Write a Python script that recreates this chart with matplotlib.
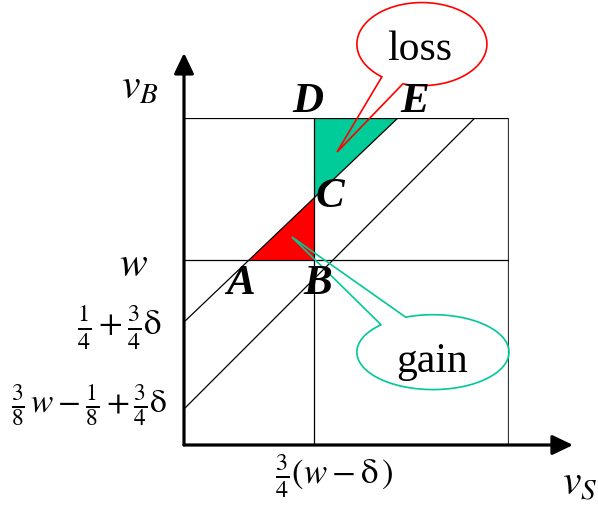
import numpy as np
import matplotlib.pyplot as plt

plt.rcParams['font.family'] = ['Liberation Serif', 'DejaVu Serif']
plt.rcParams['mathtext.fontset'] = 'stix'

# model units: box is the unit square, origin at the axes corner
w_level = 0.566          # v_B = w
b_x = 0.40               # v_S = 3/4 (w - delta)
diag_intercepts = [0.376, 0.110]   # where the two diagonals meet the v_B axis
diag_top_x = [0.658, 0.895]        # where they meet the top of the box

left_labels = [r'$w$',
               r'$\frac{1}{4}+\frac{3}{4}\mathrm{\delta}$',
               r'$\frac{3}{8}\,w-\frac{1}{8}+\frac{3}{4}\mathrm{\delta}$']
x_label = r'$\frac{3}{4}(w-\mathrm{\delta}\,)$'

slopes = [(1 - b) / t for b, t in zip(diag_intercepts, diag_top_x)]
A = ((w_level - diag_intercepts[0]) / slopes[0], w_level)
B = (b_x, w_level)
C = (b_x, diag_intercepts[0] + slopes[0] * b_x)
D = (b_x, 1.0)
E = (diag_top_x[0], 1.0)

fig = plt.figure(figsize=(5.98, 5.07), dpi=100)
ax = fig.add_axes([184 / 598, 62 / 507, 325 / 598, 327 / 507])
ax.set_xlim(0, 1)
ax.set_ylim(0, 1)
ax.axis('off')

# shaded regions
ax.fill([D[0], E[0], C[0]], [D[1], E[1], C[1]], color='#00cc99', lw=0, zorder=1)
ax.fill([A[0], B[0], C[0]], [A[1], B[1], C[1]], color='#ff0000', lw=0, zorder=1)

# box and guide lines
ax.plot([0, 1], [1, 1], color='k', lw=0.9, zorder=2)
ax.plot([1, 1], [0, 1], color='#333333', lw=1.6, zorder=2)
ax.plot([0, 1], [w_level, w_level], color='k', lw=0.9, zorder=2)
ax.plot([b_x, b_x], [0, 1], color='k', lw=0.9, zorder=2)
for b, t in zip(diag_intercepts, diag_top_x):
    ax.plot([0, t], [b, 1], color='k', lw=0.9, zorder=2)

# axes with arrows
arrow = dict(arrowstyle='-|>,head_length=1.25,head_width=0.6', lw=2.3,
             color='k', shrinkA=0, shrinkB=0, mutation_scale=10)
ax.annotate('', xy=(1.197, 0), xytext=(0, 0), arrowprops=arrow, annotation_clip=False)
ax.annotate('', xy=(0, 1.199), xytext=(0, 0), arrowprops=arrow, annotation_clip=False)


def callout(cx, cy, w, h, t_from, t_to, tip, color):
    t = np.radians(np.linspace(t_from, t_to, 300))
    xs = list(cx + w / 2 * np.cos(t)) + [tip[0]]
    ys = list(cy + h / 2 * np.sin(t)) + [tip[1]]
    ax.fill(xs, ys, fill=False, edgecolor=color, lw=1.2, clip_on=False, zorder=4)


callout(0.732, 1.226, 0.400, 0.254, 253, 592, (0.471, 0.896), '#ff0000')
callout(0.766, 0.284, 0.468, 0.229, 133, 471, (0.332, 0.636), '#00c896')

ax.text(0.726, 1.177, 'loss', fontsize=30, ha='center', va='baseline')
ax.text(0.763, 0.223, 'gain', fontsize=30, ha='center', va='baseline')

# point labels
pt = dict(fontsize=31, fontweight='bold', style='italic', ha='center', va='center', zorder=6)
ax.text(0.382, 1.049, 'D', **pt)
ax.text(0.711, 1.049, 'E', **pt)
ax.text(0.449, 0.758, 'C', **pt)
ax.text(0.175, 0.492, 'A', **pt)
ax.text(0.412, 0.492, 'B', **pt)

# axis labels
ax.text(-0.135, 1.092, r'$v_B$', fontsize=30, ha='center', va='center')
ax.text(1.218, -0.122, r'$v_S$', fontsize=30, ha='center', va='center')
ax.text(-0.154, 0.547, left_labels[0], fontsize=30, ha='center', va='center')
ax.text(-0.068, 0.358, left_labels[1], fontsize=25, ha='right', va='center')
ax.text(-0.052, 0.122, left_labels[2], fontsize=24, ha='right', va='center')
ax.text(0.462, -0.095, x_label, fontsize=25, ha='center', va='center')

fig.savefig('out.png', dpi=100)
